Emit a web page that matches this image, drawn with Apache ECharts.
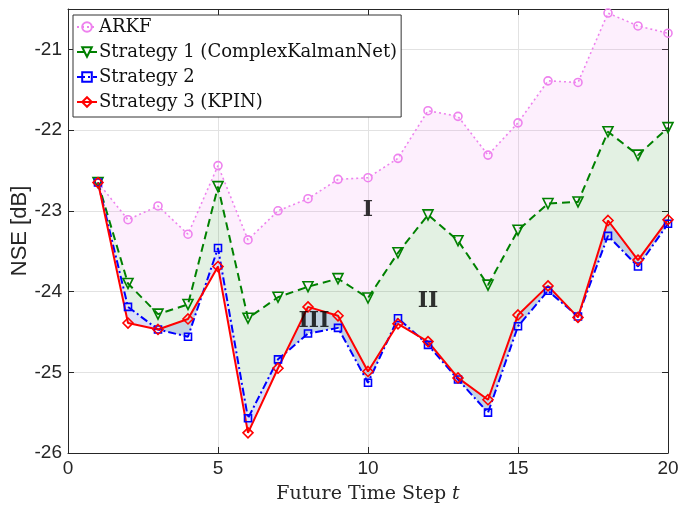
<!DOCTYPE html>
<html><head><meta charset="utf-8">
<script src="https://cdn.jsdelivr.net/npm/echarts@6/dist/echarts.min.js"></script>
<style>html,body{margin:0;padding:0;background:#fff}#c{width:678px;height:506px}</style>
</head><body><div id="c"></div>
<script>
const steps = [1,2,3,4,5,6,7,8,9,10,11,12,13,14,15,16,17,18,19,20];
const arkf = [-22.65,-23.11,-22.94,-23.29,-22.44,-23.36,-23.00,-22.85,-22.61,-22.59,-22.35,-21.76,-21.83,-22.31,-21.91,-21.39,-21.41,-20.55,-20.71,-20.80];
const strat1 = [-22.65,-23.90,-24.28,-24.16,-22.70,-24.33,-24.07,-23.94,-23.84,-24.08,-23.52,-23.05,-23.37,-23.92,-23.24,-22.91,-22.89,-22.02,-22.31,-21.97];
const strat2 = [-22.65,-24.19,-24.47,-24.56,-23.46,-25.57,-24.84,-24.52,-24.45,-25.13,-24.33,-24.66,-25.09,-25.50,-24.43,-23.99,-24.31,-23.31,-23.69,-23.16];
const strat3 = [-22.65,-24.39,-24.47,-24.34,-23.69,-25.75,-24.95,-24.19,-24.30,-24.99,-24.40,-24.62,-25.07,-25.34,-24.29,-23.93,-24.32,-23.12,-23.61,-23.11];
const names = ['ARKF','Strategy 1 (ComplexKalmanNet)','Strategy 2','Strategy 3 (KPIN)'];
const regionText = ['I','II','III'];
const regionX = [10, 12, 8.2];
const regionY = [-22.99, -24.12, -24.37];
const xTicks = [0,5,10,15,20];
const yTicks = [-26,-25,-24,-23,-22,-21];

const chart = echarts.init(document.getElementById('c'), null, {renderer:'canvas'});
const axisCol = '#262626';
const sans = 'Liberation Sans';
const serif = 'DejaVu Serif';

function band(name, upper, lower, fill, z){
  const data = steps.map((t,i)=>[t, upper[i], lower[i]]);
  return {
    type:'custom', name:name, z:z, silent:true,
    data:data,
    encode:{x:0, y:[1,2]},
    renderItem:function(params, api){
      if(params.dataIndex !== 0) return null;
      const pts = [];
      for(let i=0;i<data.length;i++) pts.push(api.coord([data[i][0], data[i][1]]));
      for(let i=data.length-1;i>=0;i--) pts.push(api.coord([data[i][0], data[i][2]]));
      return {type:'polygon', shape:{points:pts}, style:{fill:fill, stroke:null}};
    }
  };
}
function line(name, vals, color, type, symbol, size, rotate, width){
  return {
    type:'line', name:name, z:5,
    data: steps.map((t,i)=>[t, vals[i]]),
    symbol:symbol, symbolSize:size, symbolRotate:rotate, showAllSymbol:true,
    lineStyle:{color:color, width:width, type:type},
    itemStyle:{color:'rgba(255,255,255,0)', borderColor:color, borderWidth:1.6},
    emphasis:{disabled:true}
  };
}
const xBase = {type:'value', min:0, max:20, interval:5, gridIndex:0};
const yBase = {type:'value', min:-26, max:-20.5, interval:1, gridIndex:0};

chart.setOption({
  animation:false,
  backgroundColor:'#fff',
  grid:{left:68, right:10, top:9, bottom:53, show:false, containLabel:false, outerBoundsMode:'none'},
  xAxis:[
    Object.assign({}, xBase, {
      position:'bottom',
      axisLine:{show:true, onZero:false, lineStyle:{color:axisCol, width:1}},
      axisTick:{show:true, inside:true, length:6, lineStyle:{color:axisCol}},
      splitLine:{show:true, lineStyle:{color:'#e2e2e2', width:1}},
      axisLabel:{color:axisCol, fontFamily:sans, fontSize:19, margin:6,
        formatter:v=> xTicks.indexOf(v)>=0 ? String(v) : ''},
      name:'{a|Future Time Step }{b|t}', nameLocation:'middle', nameGap:32,
      nameTextStyle:{rich:{a:{fontFamily:serif, fontSize:19, color:axisCol}, b:{fontFamily:serif, fontStyle:'italic', fontSize:19, color:axisCol}}}
    }),
    Object.assign({}, xBase, {
      position:'top',
      axisLine:{show:true, onZero:false, lineStyle:{color:axisCol, width:1}},
      axisTick:{show:true, inside:true, length:6, lineStyle:{color:axisCol}},
      splitLine:{show:false}, axisLabel:{show:false}
    })
  ],
  yAxis:[
    Object.assign({}, yBase, {
      position:'left',
      axisLine:{show:true, onZero:false, lineStyle:{color:axisCol, width:1}},
      axisTick:{show:true, inside:true, length:6, lineStyle:{color:axisCol}},
      splitLine:{show:true, lineStyle:{color:'#e2e2e2', width:1}},
      axisLabel:{color:axisCol, fontFamily:sans, fontSize:19, margin:6, showMaxLabel:false,
        formatter:v=> yTicks.indexOf(v)>=0 ? String(v) : ''},
      name:'NSE [dB]', nameLocation:'middle', nameGap:37, nameMoveOverlap:false,
      nameTextStyle:{fontFamily:sans, fontSize:22, color:axisCol}
    }),
    Object.assign({}, yBase, {
      position:'right',
      axisLine:{show:true, onZero:false, lineStyle:{color:axisCol, width:1}},
      axisTick:{show:true, inside:true, length:6, lineStyle:{color:axisCol}},
      splitLine:{show:false}, axisLabel:{show:false}
    })
  ],
  legend:{
    data:names, orient:'vertical', left:73, top:15,
    padding:[1,4,4,3], itemGap:3, itemWidth:20, itemHeight:12,
    backgroundColor:'#fff', borderColor:'#333', borderWidth:1, borderRadius:0,
    textStyle:{fontFamily:serif, fontSize:18, lineHeight:22, color:'#111', padding:[0,0,0,-3]},
    selectedMode:false
  },
  series:[
    band('regionI', arkf, strat1, 'rgba(238,130,238,0.13)', 1),
    band('regionII', strat1, strat2, 'rgba(0,128,0,0.11)', 2),
    band('regionIII', strat2, strat3, 'rgba(30,60,215,0.16)', 3),
    line(names[0], arkf, '#ee82ee', [2,3], 'circle', 8, 0, 1.6),
    line(names[1], strat1, '#008000', [8,5], 'triangle', 10, 180, 2),
    line(names[2], strat2, '#0000ff', [8,3,2,3], 'rect', 7, 0, 2),
    line(names[3], strat3, '#ff0000', 'solid', 'diamond', 10, 0, 2),
    {
      type:'scatter', name:'labels', z:6, silent:true, symbolSize:0,
      data: regionText.map((s,i)=>({value:[regionX[i], regionY[i]], name:s})),
      label:{show:true, position:'inside', formatter:p=>p.name,
        fontFamily:serif, fontWeight:'bold', fontSize:22, color:'#000'}
    }
  ]
});
</script></body></html>
